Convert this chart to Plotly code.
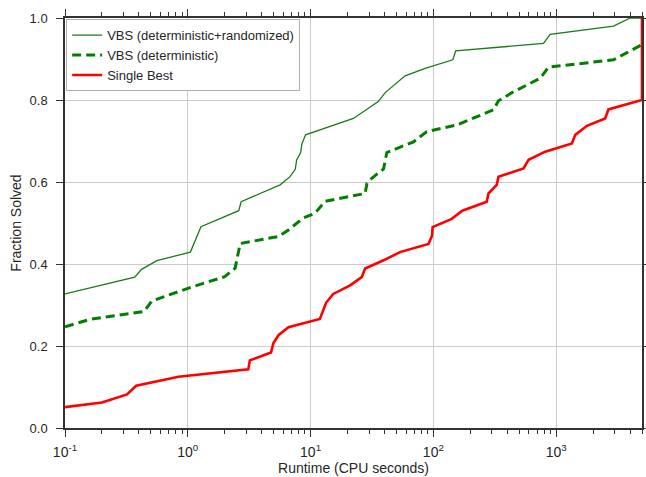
import math
import plotly.graph_objects as go

# VBS (deterministic+randomized)
vbs_all_x = [0.1, 0.37, 0.42, 0.56, 1.05, 1.28, 2.6, 2.72, 5.65, 6.8, 7.5, 7.7, 8.3, 8.5, 9.1,
             22.3, 35.6, 40.5, 58.9, 85.7, 144, 152, 789, 893, 2930, 4010, 5000]
vbs_all_y = [0.327, 0.368, 0.387, 0.408, 0.429, 0.491, 0.530, 0.552, 0.593, 0.613, 0.631, 0.654, 0.672, 0.693, 0.715,
             0.755, 0.796, 0.818, 0.859, 0.877, 0.898, 0.920, 0.938, 0.960, 0.980, 1.0, 1.0]

# VBS (deterministic)
vbs_det_x = [0.1, 0.16, 0.44, 0.51, 1.08, 2.0, 2.43, 2.55, 2.67, 5.47, 6.6, 8.7, 10.9, 13.1,
             27.8, 28.8, 31.5, 39.3, 41.8, 68.8, 88.5, 155, 308, 339, 449, 741, 866, 2930, 5000]
vbs_det_y = [0.247, 0.265, 0.284, 0.310, 0.344, 0.369, 0.390, 0.418, 0.450, 0.467, 0.483, 0.512, 0.524, 0.553,
             0.572, 0.597, 0.609, 0.632, 0.672, 0.698, 0.723, 0.739, 0.776, 0.798, 0.820, 0.853, 0.880, 0.898, 0.935]

# Single Best
single_x = [0.1, 0.2, 0.32, 0.38, 0.84, 3.11, 3.2, 4.76, 4.98, 5.5, 6.6, 11.9, 13.4, 15.3, 21, 26.1, 27.8,
            39.3, 53.5, 91.2, 97.5, 98.6, 141, 172, 272, 281, 328, 339, 542, 596, 814, 1343, 1430,
            1780, 2505, 2665, 5000, 5000]
single_y = [0.051, 0.062, 0.082, 0.103, 0.125, 0.143, 0.165, 0.184, 0.207, 0.227, 0.246, 0.266, 0.306, 0.327,
            0.348, 0.368, 0.389, 0.409, 0.429, 0.449, 0.469, 0.490, 0.510, 0.530, 0.552, 0.572, 0.593, 0.613,
            0.633, 0.654, 0.674, 0.694, 0.715, 0.737, 0.755, 0.777, 0.800, 1.0]

x_range = [0.1, 5000]
x_ticks = [0.1, 1, 10, 100, 1000]
x_ticktext = ["10<sup>-1</sup>", "10<sup>0</sup>", "10<sup>1</sup>", "10<sup>2</sup>", "10<sup>3</sup>"]
x_minor = [m * d for d in [0.1, 1, 10, 100, 1000] for m in range(2, 10) if m * d <= 5000]
y_ticks = [0.0, 0.2, 0.4, 0.6, 0.8, 1.0]

FONT = "Liberation Sans, Arial, sans-serif"
TXT = "#262626"
AX = "#333333"

fig = go.Figure()
fig.add_trace(go.Scatter(x=vbs_all_x, y=vbs_all_y, mode="lines",
                         name="VBS (deterministic+randomized)",
                         line=dict(color="#1a7a1a", width=1.3)))
fig.add_trace(go.Scatter(x=vbs_det_x, y=vbs_det_y, mode="lines",
                         name="VBS (deterministic)",
                         line=dict(color="#008000", width=3, dash="9px,5px")))
fig.add_trace(go.Scatter(x=single_x, y=single_y, mode="lines",
                         name="Single Best",
                         line=dict(color="#ff0000", width=2.6)))

fig.update_layout(
    width=646, height=477,
    margin=dict(l=65, r=4, t=18, b=49),
    paper_bgcolor="white", plot_bgcolor="white",
    font=dict(family=FONT, size=13, color=TXT),
    showlegend=True,
    legend=dict(x=0.002, y=0.997, xanchor="left", yanchor="top",
                bgcolor="white", bordercolor="#b0b0b0", borderwidth=1,
                font=dict(size=13, color=TXT), tracegroupgap=0),
    xaxis=dict(type="log", range=[math.log10(x_range[0]), math.log10(x_range[1])],
               tickmode="array", tickvals=x_ticks, ticktext=x_ticktext,
               automargin=False,
               showgrid=True, gridcolor="#cbcbcb", gridwidth=1,
               showline=True, linecolor=AX, linewidth=1.5, mirror="allticks",
               ticks="outside", ticklen=7, tickwidth=1, tickcolor=AX,
               ticklabelstandoff=3,
               minor=dict(tickmode="array", tickvals=x_minor, ticks="outside", ticklen=4,
                          tickwidth=1, tickcolor=AX, showgrid=False),
               zeroline=False,
               title=dict(text="Runtime (CPU seconds)", font=dict(size=14, color=TXT), standoff=3),
               tickfont=dict(size=14, color=TXT)),
    yaxis=dict(range=[0, 1], tickvals=y_ticks, tickformat=".1f",
               automargin=False,
               showgrid=True, gridcolor="#cbcbcb", gridwidth=1,
               showline=True, linecolor=AX, linewidth=1.5, mirror="allticks",
               ticks="outside", ticklen=7, tickwidth=1, tickcolor=AX,
               ticklabelstandoff=6,
               zeroline=False,
               title=dict(text="Fraction Solved", font=dict(size=14, color=TXT), standoff=5),
               tickfont=dict(size=13, color=TXT)),
)

fig.write_html(
    "out.html",
    config={"responsive": False, "displayModeBar": False},
    post_script="document.body.style.margin='0';document.body.style.overflow='hidden';",
)
